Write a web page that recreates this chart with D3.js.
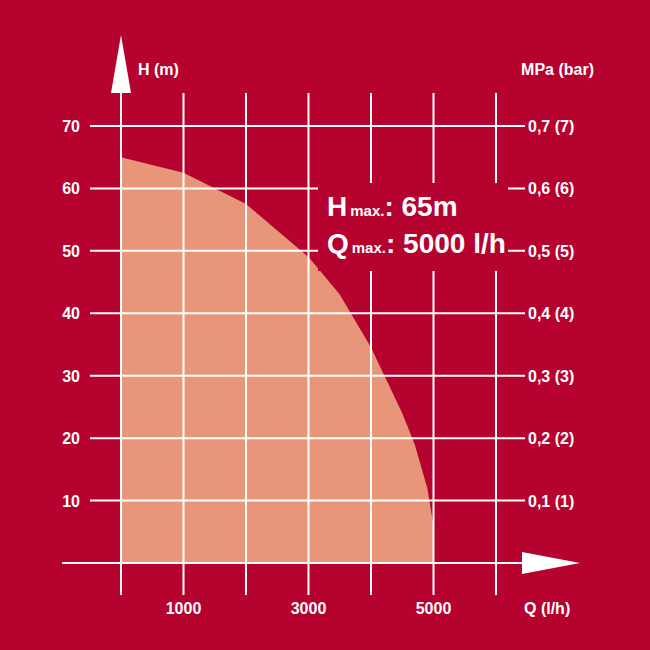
<!DOCTYPE html>
<html><head><meta charset="utf-8">
<script src="https://cdn.jsdelivr.net/npm/d3@7"></script>
<style>body{margin:0;background:#b5022e}text{font-family:"Liberation Sans Narrow","Liberation Sans",sans-serif;font-weight:bold;fill:#fff}</style>
</head><body><div id="chart"></div>
<script>
// curve values
var flow = [0, 1000, 2000, 3000, 3500, 4000, 4500, 4700, 4900, 5000, 5000];
var head = [65, 62.5, 57.5, 49, 43, 34.5, 24, 19, 12, 6, 0];
var hTicks = [10, 20, 30, 40, 50, 60, 70];
var pLabels = ["0,1 (1)", "0,2 (2)", "0,3 (3)", "0,4 (4)", "0,5 (5)", "0,6 (6)", "0,7 (7)"];
var qTicks = [1000, 2000, 3000, 4000, 5000, 6000];
var qLabels = [1000, 3000, 5000];

var svg = d3.select("#chart").append("svg").attr("width", 650).attr("height", 650);
svg.append("rect").attr("width", 650).attr("height", 650).attr("fill", "#b5022e");

var x = d3.scaleLinear().domain([0, 6000]).range([121, 496]);
var y = d3.scaleLinear().domain([0, 70]).range([563, 126]);

var pts = flow.map((q, i) => [q, head[i]]);
pts.push([0, 0]);
svg.append("path")
  .attr("d", d3.line().x(d => x(d[0])).y(d => y(d[1])).curve(d3.curveLinear)(pts) + "Z")
  .attr("fill", "#e8967a");

// grid
svg.selectAll(".v").data([0].concat(qTicks)).enter().append("line")
  .attr("x1", d => x(d)).attr("x2", d => x(d)).attr("y1", 93).attr("y2", 595)
  .attr("stroke", "#fff").attr("stroke-width", 2);
svg.selectAll(".h").data([0].concat(hTicks)).enter().append("line")
  .attr("x1", d => d === 0 ? 62 : 90).attr("x2", 525).attr("y1", d => y(d)).attr("y2", d => y(d))
  .attr("stroke", "#fff").attr("stroke-width", 2);

// arrows
svg.append("path").attr("d", "M121,35 L131,93 L111,93 Z").attr("fill", "#fff");
svg.append("path").attr("d", "M580,563 L522,552 L522,574 Z").attr("fill", "#fff");

// tick labels
svg.selectAll(".hl").data(hTicks).enter().append("text")
  .attr("x", 80).attr("y", d => y(d) + 6).attr("text-anchor", "end")
  .attr("font-size", 16).text(d => d);
svg.selectAll(".pl").data(hTicks).enter().append("text")
  .attr("x", 528).attr("y", d => y(d) + 6)
  .attr("font-size", 16).text((d, i) => pLabels[i]);
svg.selectAll(".ql").data(qLabels).enter().append("text")
  .attr("x", d => x(d)).attr("y", 614).attr("text-anchor", "middle")
  .attr("font-size", 16).text(d => d);

svg.append("text").attr("x", 138).attr("y", 75).attr("font-size", 16).text("H (m)");
svg.append("text").attr("x", 594).attr("y", 75).attr("text-anchor", "end").attr("font-size", 16).text("MPa (bar)");
svg.append("text").attr("x", 524).attr("y", 614).attr("font-size", 16).text("Q (l/h)");

// info box
svg.append("rect").attr("x", 318).attr("y", 183).attr("width", 190).attr("height", 88).attr("fill", "#b5022e");
var t1 = svg.append("text").attr("x", 327).attr("y", 216).attr("font-size", 28);
t1.append("tspan").text("H");
t1.append("tspan").attr("font-size", 15).attr("dx", 3).text("max.");
t1.append("tspan").text(": 65m");
var t2 = svg.append("text").attr("x", 327).attr("y", 253).attr("font-size", 28);
t2.append("tspan").text("Q");
t2.append("tspan").attr("font-size", 15).attr("dx", 3).text("max.");
t2.append("tspan").text(": 5000 l/h");
</script></body></html>
